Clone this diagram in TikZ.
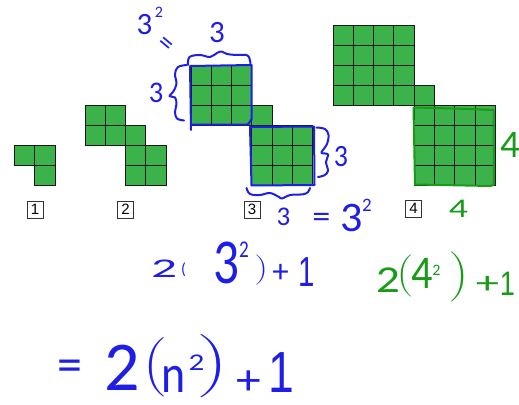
\documentclass[tikz,border=0pt]{standalone}
\usepackage{fontspec}
\setmainfont{Liberation Sans}
\newfontfamily\handf{Carlito}
\newfontfamily\onef{Liberation Sans}
\usepackage{graphicx}
\definecolor{tile}{RGB}{60,178,74}
\definecolor{gridc}{RGB}{25,25,25}
\definecolor{ink}{RGB}{30,30,230}
\definecolor{gink}{RGB}{25,155,25}
\newcommand\cw{20.3}
\newcommand\chh{20}
\newcommand\tilefig[3]{%
  \foreach \i in {1,...,#3}{\foreach \j in {1,...,#3}{
    \draw[cell] ({#1+(\i-1)*\cw},{#2+(\j-1)*\chh}) rectangle ++(\cw,\chh);
    \draw[cell] ({#1+(#3+\i-1)*\cw},{#2+(#3+\j-1)*\chh}) rectangle ++(\cw,\chh);
  }}
  \draw[cell] ({#1+#3*\cw},{#2+(#3-1)*\chh}) rectangle ++(\cw,\chh);
}
% style, name, x, y, size, xscale, box width, text
\newcommand\gl[8]{\node[#1] (#2) at (#3,#4) {\makebox[#7pt][c]{\fontsize{#5}{#5}\selectfont\scalebox{#6}[1]{#8}}};}
% paren: style, name, x, y, xscale, yscale, box width, delimiter
\newcommand\pr[8]{\node[#1] (#2) at (#3,#4) {\makebox[#7pt][c]{\scalebox{#5}[#6]{$\Bigg#8$}}};}
\begin{document}
\begin{tikzpicture}[x=1pt,y=-1pt,
  cell/.style={fill=tile, draw=gridc, line width=0.9pt},
  lbl/.style={draw=black!80, line width=1pt, minimum width=16pt, minimum height=17pt, inner sep=0pt, font=\fontsize{15}{15}\selectfont},
  hand/.style={inner sep=0pt, text=ink, font=\handf},
  ghand/.style={inner sep=0pt, text=gink, font=\handf},
  one/.style={inner sep=0pt, text=ink, font=\onef},
  gone/.style={inner sep=0pt, text=gink, font=\onef},
  pen/.style={draw=ink, line width=2pt, line cap=round, line join=round},
  gpen/.style={draw=gink, line width=2pt, line cap=round, line join=round}]
\useasboundingbox (0,0) rectangle (519,404);

% tile figures
\tilefig{14.5}{145}{1}
\tilefig{85}{105}{2}
\tilefig{191}{65}{3}
\tilefig{333}{25}{4}

% labels
\node[lbl] (l1) at (35,209.5) {1};
\node[lbl] (l2) at (125.5,209.5) {2};
\node[lbl] (l3) at (252,209.5) {3};
\node[lbl] (l4) at (413.5,208.5) {4};

% blue annotations on figure 3
\draw[pen] (191,130) -- (190,66) -- (251.5,65) -- (251.5,120) to[out=90,in=0] (247,124.5) -- (191,124.5);
\draw[pen] (250,127) -- (314,126.5) -- (314.5,185) -- (251.5,185.5) -- cycle;
\draw[pen] plot[smooth, tension=0.6] coordinates {(188,65) (189.5,57) (200,55) (210,57) (217,53) (221.5,51.5) (227,54) (237,55) (246.5,55) (249.5,58.5) (250.5,64)};
\draw[pen] plot[smooth, tension=0.6] coordinates {(186.5,65) (178,67) (175,74) (176.5,84) (173,92) (169.5,96) (175,97.5) (176.5,104) (175,112) (177,118.5) (184,120.5)};
\draw[pen] plot[smooth, tension=0.6] coordinates {(316.5,127.5) (325,129) (328.5,135) (327,144) (323,150) (321.5,153) (328,154.5) (326,162) (328,171) (324,175.5) (318,177)};
\draw[pen] plot[smooth, tension=0.6] coordinates {(246.5,188) (250,194) (260,195) (270,193) (279,197) (282,198.5) (290,195) (303,194.3) (308,192) (310,188)};

\gl{hand}{t1}{144.5}{25}{31}{1}{15}{3}
\gl{hand}{t1s}{159}{12}{16}{1}{7}{2}
\gl{hand,rotate=-40}{t1e}{165}{45.5}{28}{1}{14}{=}
\gl{hand}{t2}{217}{33}{31}{1}{18}{3}
\gl{hand}{t3}{156}{92.5}{30}{0.95}{12}{3}
\gl{hand}{t4}{341}{157}{31}{0.9}{12}{3}
\gl{hand}{t5}{283.5}{216.5}{27}{1}{13}{3}
\gl{hand}{t6}{321.5}{220}{33}{1.1}{17}{=}
\gl{hand}{t7}{352}{218.5}{42}{1.05}{18}{3}
\gl{hand}{t7s}{367}{205}{19}{1}{6}{2}

% 2(3^2)+1
\gl{hand}{a1}{164}{268.5}{27}{1.9}{22}{2}
\gl{hand}{a2}{183.5}{270}{16}{1}{6}{(}
\gl{hand}{a3}{226}{262.5}{64}{0.8}{22}{3}
\gl{hand}{a3s}{244}{249.5}{24}{0.8}{8}{2}
\pr{hand}{a4}{262}{270}{1.6}{1.0}{11}{)}
\gl{hand}{a5}{280.5}{273.5}{33}{1}{15}{+}
\gl{one}{a6}{306.5}{272.5}{42}{0.7}{8}{1}

% green
\draw[gpen] plot[smooth, tension=0.4] coordinates {(413.5,107.5) (453,108.5) (493.5,110)} -- (494,183) to[out=-90,in=0] (490.5,186) -- (415,184.5) -- cycle;
\gl{ghand}{g1}{510}{144.5}{39}{1}{17}{4}
\gl{ghand}{g2}{458.5}{208.5}{27}{1.4}{17}{4}
\gl{ghand}{b1}{388}{280}{38}{1.25}{19}{2}
\pr{ghand}{b2}{404}{276}{2.0}{1.4}{12}{(}
\gl{ghand}{b3}{422.5}{273}{47}{0.9}{18}{4}
\gl{ghand}{b3s}{436.5}{270}{16}{1}{7}{2}
\pr{ghand}{b4}{460}{277}{2.4}{1.67}{15}{)}
\gl{ghand}{b5}{487.5}{284.5}{31}{1.5}{20}{+}
\gl{gone}{b6}{507.5}{283.5}{34}{0.8}{9}{1}

% = 2(n^2)+1
\gl{hand}{c0}{70}{371}{50}{1}{24}{=}
\gl{hand}{c1}{122}{367.5}{70}{1}{36}{2}
\pr{hand}{c2}{154}{367.5}{2.9}{1.97}{18}{(}
\gl{hand}{c3}{174}{379.5}{54}{0.85}{23}{n}
\gl{hand}{c3s}{196.5}{362.5}{24}{1.3}{13}{2}
\pr{hand}{c4}{215}{366.5}{3.8}{2.1}{24}{)}
\gl{hand}{c5}{249}{382.5}{43}{1.15}{22}{+}
\gl{one}{c6}{281}{373}{58}{0.8}{12}{1}
\end{tikzpicture}
\end{document}
